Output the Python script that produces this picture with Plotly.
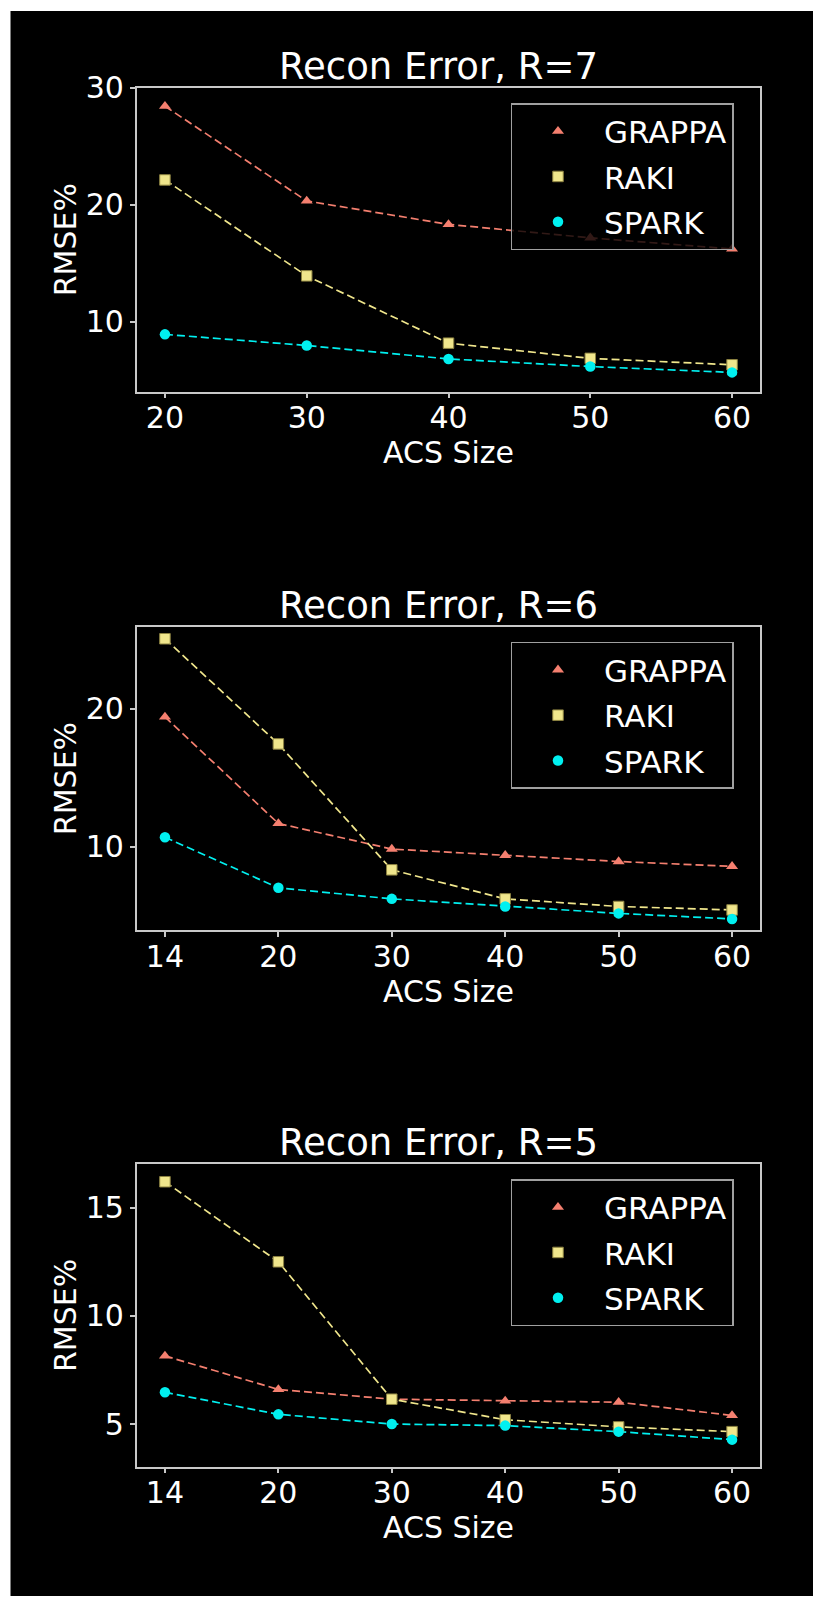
import plotly.graph_objects as go

W, H = 823, 1605

# ---------------- data ----------------
acs_r7 = ["20", "30", "40", "50", "60"]
grappa_r7 = [28.4, 20.3, 18.3, 17.15, 16.2]
raki_r7 = [22.1, 13.9, 8.15, 6.85, 6.3]
spark_r7 = [8.9, 7.95, 6.8, 6.15, 5.65]
yticks_r7 = [10, 20, 30]

acs_r6 = ["14", "20", "30", "40", "50", "60"]
grappa_r6 = [19.4, 11.7, 9.85, 9.4, 8.95, 8.6]
raki_r6 = [25.05, 17.45, 8.35, 6.25, 5.7, 5.45]
spark_r6 = [10.7, 7.05, 6.25, 5.7, 5.2, 4.8]
yticks_r6 = [10, 20]

acs_r5 = ["14", "20", "30", "40", "50", "60"]
grappa_r5 = [8.15, 6.6, 6.15, 6.07, 6.01, 5.4]
raki_r5 = [16.2, 12.5, 6.15, 5.2, 4.87, 4.65]
spark_r5 = [6.47, 5.45, 5.0, 4.93, 4.65, 4.28]
yticks_r5 = [5, 10, 15]

titles = ["Recon Error, R=7", "Recon Error, R=6", "Recon Error, R=5"]
series_names = ["GRAPPA", "RAKI", "SPARK"]

# ---------------- style ----------------
FONT = "DejaVu Sans"
C_GRAPPA = "#f47f6f"
C_RAKI = "#f0e68c"
C_SPARK = "#00f0f0"
FRAME = "#c8c8c8"

panels = [
    dict(x=acs_r7, ys=[grappa_r7, raki_r7, spark_r7], yt=yticks_r7,
         yr=[4.0, 30.0], xr=[-0.2, 4.2], top=87.5, bot=391.7, leg_top=103),
    dict(x=acs_r6, ys=[grappa_r6, raki_r6, spark_r6], yt=yticks_r6,
         yr=[4.0, 25.9], xr=[-0.25, 5.25], top=627, bot=930, leg_top=641.7),
    dict(x=acs_r5, ys=[grappa_r5, raki_r5, spark_r5], yt=yticks_r5,
         yr=[3.03, 17.02], xr=[-0.25, 5.25], top=1164, bot=1466.7, leg_top=1179),
]

styles = [
    dict(color=C_GRAPPA, symbol="triangle-up", line=dict(width=0)),
    dict(color=C_RAKI, symbol="square", line=dict(width=1, color="#8c8240")),
    dict(color=C_SPARK, symbol="circle", line=dict(width=0)),
]

fig = go.Figure()

x_left, x_right = 136.6, 760.4

for i, p in enumerate(panels):
    n = "" if i == 0 else str(i + 1)
    xa, ya = "x" + n, "y" + n
    leg = "legend" + n
    for name, yv, st in zip(series_names, p["ys"], styles):
        fig.add_trace(go.Scatter(
            x=p["x"], y=yv, xaxis=xa, yaxis=ya, mode="lines",
            line=dict(color=st["color"], width=1.7, dash="8px,4px"),
            showlegend=False, hoverinfo="skip"))
    for name, yv, st in zip(series_names, p["ys"], styles):
        fig.add_trace(go.Scatter(
            x=p["x"], y=yv, xaxis=xa, yaxis=ya, mode="markers", name=name,
            marker=dict(color=st["color"], symbol=st["symbol"], size=10.5,
                        line=st["line"]),
            legend=leg, legendgroup=name + n, showlegend=True))

    dom_y = [1 - p["bot"] / H, 1 - p["top"] / H]
    axis_common = dict(showline=True, linecolor=FRAME, linewidth=1.5, mirror=True,
                       ticks="outside", ticklen=5, tickwidth=1.5, tickcolor=FRAME,
                       showgrid=False, zeroline=False, automargin=False,
                       tickfont=dict(family=FONT, size=30, color="white"))
    fig.layout["xaxis" + n] = dict(
        axis_common, domain=[x_left / W, x_right / W], anchor=ya,
        type="category", range=p["xr"], ticklabelstandoff=-6,
        title=dict(text="ACS Size", font=dict(family=FONT, size=30, color="white"),
                   standoff=3))
    fig.layout["yaxis" + n] = dict(
        axis_common, domain=dom_y, anchor=xa, range=p["yr"],
        tickmode="array", tickvals=p["yt"], ticktext=[str(v) for v in p["yt"]],
        title=dict(text="RMSE%", font=dict(family=FONT, size=30, color="white"),
                   standoff=0))
    fig.layout[leg] = dict(
        x=510.5 / W, xanchor="left", y=1 - p["leg_top"] / H, yanchor="top",
        bgcolor="rgba(0,0,0,0.8)", bordercolor="#a0a0a0", borderwidth=1.5,
        font=dict(family=FONT, size=31, color="white"),
        traceorder="grouped", tracegroupgap=2, itemwidth=82, entrywidth=160)
    fig.add_annotation(
        text=titles[i], xref="paper", yref="paper", x=438 / W,
        y=1 - (p["top"] - 21.5) / H, xanchor="center", yanchor="middle",
        showarrow=False, font=dict(family=FONT, size=37, color="white"))

fig.add_shape(type="rect", xref="paper", yref="paper",
              x0=10.5 / W, x1=1 - 10 / W, y0=9 / H, y1=1 - 11 / H,
              fillcolor="black", line=dict(width=0), layer="below")

fig.update_layout(
    width=W, height=H, margin=dict(l=0, r=0, t=0, b=0),
    paper_bgcolor="white", plot_bgcolor="black",
    font=dict(family=FONT, color="white"),
)

fig.write_html("out.html", config={"displayModeBar": False},
               post_script="document.body.style.margin='0';document.body.style.overflow='hidden';")
